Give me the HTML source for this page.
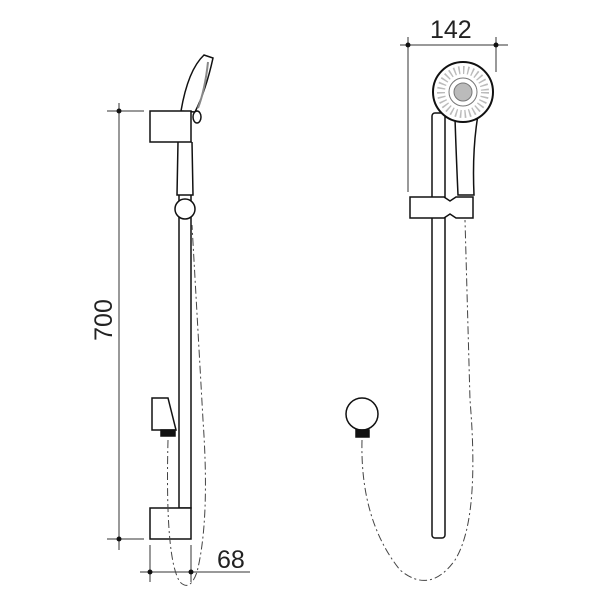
<!DOCTYPE html>
<html><head><meta charset="utf-8"><style>
html,body{margin:0;padding:0;background:#fff;width:600px;height:600px;overflow:hidden}
text{font-family:"Liberation Sans",sans-serif;fill:#222}
</style></head><body>
<svg width="600" height="600" viewBox="0 0 600 600" xmlns="http://www.w3.org/2000/svg">
<g fill="none" stroke="#333" stroke-width="1">
<line x1="119" y1="103" x2="119" y2="550"/>
<line x1="107" y1="111" x2="144" y2="111"/>
<line x1="107" y1="539" x2="144" y2="539"/>
<line x1="140" y1="572" x2="250" y2="572"/>
<line x1="150" y1="545" x2="150" y2="582"/>
<line x1="191" y1="545" x2="191" y2="582"/>
<line x1="400" y1="45" x2="508" y2="45"/>
<line x1="408" y1="37" x2="408" y2="192"/>
<line x1="496" y1="37" x2="496" y2="72"/>
</g>
<g fill="#111">
<circle cx="119" cy="111" r="2.5"/><circle cx="119" cy="539" r="2.5"/>
<circle cx="150" cy="572" r="2.5"/><circle cx="191" cy="572" r="2.5"/>
<circle cx="408" cy="45" r="2.5"/><circle cx="496" cy="45" r="2.5"/>
</g>
<text x="217" y="568" font-size="25">68</text>
<text x="430" y="38" font-size="25">142</text>
<text transform="translate(112,320) rotate(-90)" font-size="25" text-anchor="middle">700</text>

<g fill="#fff" stroke="#111" stroke-width="1.5">
<path d="M181 111 Q188 70 204 55 L213 58 Q206 90 195 112 Z"/>
<path d="M208 62 Q205 90 198 108" stroke="#888" stroke-width="2"/>
<ellipse cx="197" cy="117" rx="4" ry="6"/>
<rect x="179" y="142" width="12" height="366"/>
<path d="M178 142 L177 195 L193 195 L192 142"/>
<circle cx="185" cy="209" r="10"/>
<rect x="150" y="111" width="41" height="31"/>
<rect x="150" y="508" width="41" height="31"/>
<path d="M152 398 L168 398 L176 430 L152 430 Z"/>
<rect x="161" y="430" width="14" height="6" fill="#111"/>
<rect x="432" y="113" width="13" height="425" rx="3"/>
<path d="M455 118 Q456 150 458 195 L474 195 Q472 150 478 115 Z"/>
<circle cx="463" cy="92" r="30" stroke-width="2"/>
<circle cx="463" cy="92" r="14" stroke="#777" stroke-width="1"/>
<circle cx="463" cy="92" r="9" fill="#bbb" stroke="#777" stroke-width="1"/>
<circle cx="463" cy="92" r="22" fill="none" stroke="#bbb" stroke-width="8" stroke-dasharray="1.5 3"/>
<path d="M410 197 L444 197 L450 201 L456 197 L473 197 L473 218 L456 218 L450 214 L444 218 L410 218 Z"/>
<circle cx="362" cy="414" r="16"/>
<rect x="356" y="430" width="13" height="7" fill="#111"/>
</g>
<g fill="none" stroke="#444" stroke-width="1" stroke-dasharray="8 3 2 3">
<path d="M168 440 Q165 560 180 582 Q190 592 197 572 Q210 520 203 420 L192 225"/>
<path d="M362 440 Q360 520 400 570 Q430 595 455 560 Q480 520 470 400 L465 220"/>
</g>
</svg>
</body></html>
